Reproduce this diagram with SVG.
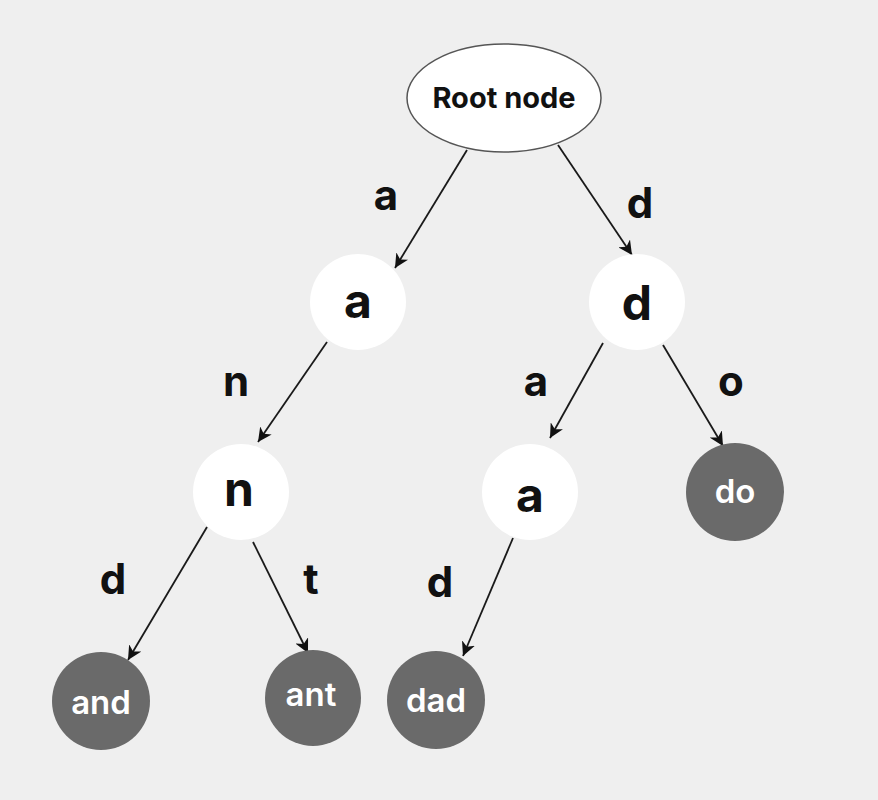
<svg xmlns="http://www.w3.org/2000/svg" width="878" height="800" viewBox="0 0 878 800">
<defs>
<marker id="arr" markerUnits="userSpaceOnUse" markerWidth="16" markerHeight="14" refX="14" refY="7" orient="auto">
<path d="M0,0 L14,7 L0,14 L4,7 Z" fill="#111"/>
</marker>
</defs>
<style>
.edge{stroke:#1a1a1a;stroke-width:1.8;fill:none;marker-end:url(#arr)}
.lbl{font-family:Inter,"Noto Sans",sans-serif;font-weight:700;font-size:42px;fill:#111;text-anchor:middle}
.wn{fill:#ffffff}
.dn{fill:#6a6a6a}
.wt{font-family:Inter,"Noto Sans",sans-serif;font-weight:700;font-size:48px;fill:#111;text-anchor:middle}
.dt{font-family:Inter,"Noto Sans",sans-serif;font-weight:600;font-size:33px;fill:#ffffff;text-anchor:middle}
</style>
<rect width="878" height="800" fill="#efefef"/>
<g id="connectors">
<line class="edge" x1="467" y1="150" x2="395" y2="268"/>
<line class="edge" x1="558" y1="145" x2="632" y2="255"/>
<line class="edge" x1="327" y1="342" x2="258" y2="442"/>
<line class="edge" x1="603" y1="343" x2="550" y2="438"/>
<line class="edge" x1="663" y1="345" x2="723" y2="446"/>
<line class="edge" x1="513" y1="538" x2="463" y2="656"/>
<line class="edge" x1="207" y1="527" x2="128" y2="660"/>
<line class="edge" x1="253" y1="542" x2="308" y2="653"/>
</g>
<g id="edge-labels">
<text class="lbl" x="386" y="210">a</text>
<text class="lbl" x="640" y="218">d</text>
<text class="lbl" x="236" y="396">n</text>
<text class="lbl" x="536" y="396">a</text>
<text class="lbl" x="731" y="396">o</text>
<text class="lbl" x="113" y="594">d</text>
<text class="lbl" x="311" y="594">t</text>
<text class="lbl" x="440" y="597">d</text>
</g>
<g id="root">
<ellipse cx="504" cy="98" rx="97" ry="54" fill="#ffffff" stroke="#555" stroke-width="1.5"/>
<text x="504" y="108" font-family="Inter,'Noto Sans',sans-serif" font-weight="700" font-size="29" fill="#111" text-anchor="middle">Root node</text>
</g>
<g id="node-a">
<circle class="wn" cx="358" cy="302" r="48"/>
<text class="wt" x="358" y="318">a</text>
</g>
<g id="node-d">
<circle class="wn" cx="637" cy="302" r="48"/>
<text class="wt" x="637" y="320">d</text>
</g>
<g id="node-n">
<circle class="wn" cx="241" cy="492" r="48"/>
<text class="wt" x="239" y="506">n</text>
</g>
<g id="node-da">
<circle class="wn" cx="530" cy="492" r="48"/>
<text class="wt" x="530" y="512">a</text>
</g>
<g id="node-do">
<circle class="dn" cx="735" cy="492" r="49"/>
<text class="dt" x="735" y="503">do</text>
</g>
<g id="node-dad">
<circle class="dn" cx="436" cy="700" r="49"/>
<text class="dt" x="436" y="712">dad</text>
</g>
<g id="node-and">
<circle class="dn" cx="101" cy="701" r="49"/>
<text class="dt" x="101" y="714">and</text>
</g>
<g id="node-ant">
<circle class="dn" cx="313" cy="698" r="48"/>
<text class="dt" x="311" y="706">ant</text>
</g>
</svg>
